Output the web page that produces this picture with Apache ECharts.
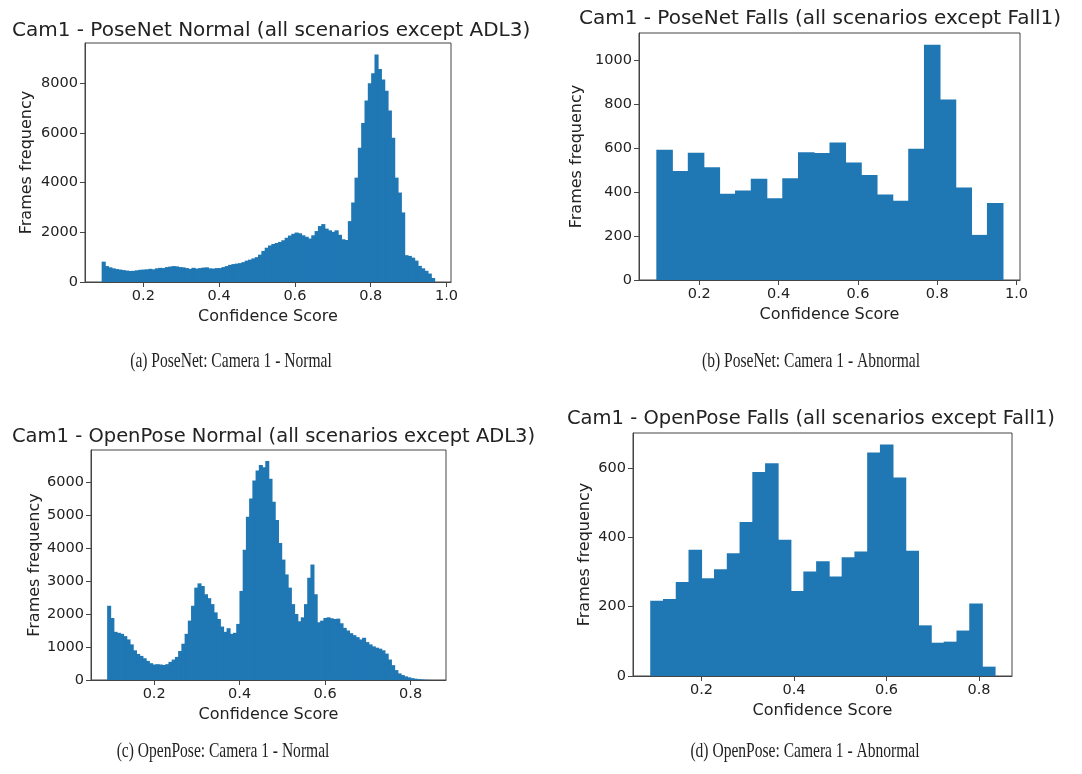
<!DOCTYPE html>
<html>
<head>
<meta charset="utf-8">
<title>Cam1 confidence score histograms</title>
<script src="https://cdn.jsdelivr.net/npm/echarts@6/dist/echarts.min.js"></script>
<style>
  html, body { margin: 0; padding: 0; background: #ffffff; }
  #chart { width: 1082px; height: 774px; }
</style>
</head>
<body>
<div id="chart"></div>
<script>
// Camera 1 – frames per confidence-score bin.
// Each histogram: [first bin edge, last bin edge] and the counts of its equal-width bins.

// PoseNet, normal activity (all scenarios except ADL3)
const poseNetNormalRange = [0.09, 0.968];
const poseNetNormalCounts = [
  820, 640, 590, 550, 520, 500, 480, 460, 445, 450,
  470, 490, 500, 510, 530, 510, 550, 570, 560, 600,
  620, 640, 630, 600, 590, 560, 530, 570, 540, 560,
  580, 590, 550, 540, 560, 560, 600, 640, 690, 720,
  740, 760, 800, 860, 900, 950, 1000, 1100, 1250, 1380,
  1470, 1530, 1570, 1610, 1680, 1780, 1870, 1940, 1990, 1960,
  1880, 1820, 1750, 1880, 2050, 2250, 2330, 2150, 2080, 2020,
  2080, 1900, 1720, 1690, 2450, 3200, 4200, 5400, 6400, 7300,
  8000, 8400, 9160, 8570, 8150, 7700, 6900, 5800, 4200, 3600,
  2800, 1080, 1050, 980, 860, 650, 550, 450, 340, 160
];

// PoseNet, falls (all scenarios except Fall1)
const poseNetFallsRange = [0.0917, 0.965];
const poseNetFallsCounts = [
  592, 495, 578, 512, 392, 407, 460, 371, 462, 581, 577,
  625, 534, 477, 388, 360, 596, 1069, 820, 420, 205, 350
];

// OpenPose, normal activity (all scenarios except ADL3)
const openPoseNormalRange = [0.09, 0.845];
const openPoseNormalCounts = [
  2250, 1880, 1460, 1430, 1400, 1330, 1230, 1080, 900, 790,
  730, 660, 580, 510, 470, 480, 470, 455, 480, 550,
  620, 700, 880, 1100, 1400, 1800, 2250, 2800, 2930, 2850,
  2600, 2480, 2300, 2050, 1850, 1620, 1460, 1570, 1400, 1430,
  1700, 2700, 3950, 4950, 5500, 6050, 6350, 6520, 6450, 6640,
  6100, 5400, 4850, 4150, 3650, 3200, 2800, 2300, 2000, 1780,
  1900, 2300, 3100, 3500, 2600, 1750, 1800, 1880, 1900, 1870,
  1850, 1860, 1720, 1580, 1500, 1420, 1360, 1300, 1230, 1280,
  1150, 1080, 1020, 980, 950, 900, 800, 620, 450, 300,
  200, 150, 110, 80, 55, 40, 25, 15, 8, 4
];

// OpenPose, falls (all scenarios except Fall1)
const openPoseFallsRange = [0.089, 0.834];
const openPoseFallsCounts = [
  217, 222, 271, 364, 282, 308, 354, 444, 588, 613, 393, 245, 301, 331,
  287, 342, 359, 644, 667, 572, 361, 146, 96, 99, 131, 209, 27
];

// Tick labels
const xTicksFull = [0.2, 0.4, 0.6, 0.8, 1.0];
const xTicksShort = [0.2, 0.4, 0.6, 0.8];
const yTicksPoseNetNormal = [0, 2000, 4000, 6000, 8000];
const yTicksPoseNetFalls = [0, 200, 400, 600, 800, 1000];
const yTicksOpenPoseNormal = [0, 1000, 2000, 3000, 4000, 5000, 6000];
const yTicksOpenPoseFalls = [0, 200, 400, 600];

// Titles and captions
const panelTitles = [
  'Cam1 - PoseNet Normal (all scenarios except ADL3)',
  'Cam1 - PoseNet Falls (all scenarios except Fall1)',
  'Cam1 - OpenPose Normal (all scenarios except ADL3)',
  'Cam1 - OpenPose Falls (all scenarios except Fall1)'
];
const panelCaptions = [
  '(a) PoseNet: Camera 1 - Normal',
  '(b) PoseNet: Camera 1 - Abnormal',
  '(c) OpenPose: Camera 1 - Normal',
  '(d) OpenPose: Camera 1 - Abnormal'
];
const xAxisTitle = 'Confidence Score';
const yAxisTitle = 'Frames frequency';

// ---------------------------------------------------------------------------

const BAR_COLOR = '#1f77b4';
const INK = '#222222';
const FRAME = '#454545';
const SANS = 'DejaVu Sans';

// Turn a range + counts into [binStart, binEnd, count] rows.
function toBins(range, counts) {
  const w = (range[1] - range[0]) / counts.length;
  return counts.map((c, i) => [range[0] + i * w, range[0] + (i + 1) * w, c]);
}

const panels = [
  { range: poseNetNormalRange, counts: poseNetNormalCounts, xTicks: xTicksFull, yTicks: yTicksPoseNetNormal,
    grid: { left: 85, top: 43, width: 366, height: 239 }, yGap: 50,
    title: { x: 12, y: 30.5, size: 20 }, caption: { x: 231, y: 361 } },
  { range: poseNetFallsRange, counts: poseNetFallsCounts, xTicks: xTicksFull, yTicks: yTicksPoseNetFalls,
    grid: { left: 639, top: 33, width: 381, height: 247 }, yGap: 54,
    title: { x: 579, y: 19, size: 20 }, caption: { x: 811, y: 361 } },
  { range: openPoseNormalRange, counts: openPoseNormalCounts, xTicks: xTicksShort, yTicks: yTicksOpenPoseNormal,
    grid: { left: 91, top: 450, width: 355, height: 230 }, yGap: 48,
    title: { x: 12, y: 437, size: 19.5 }, caption: { x: 223, y: 751 } },
  { range: openPoseFallsRange, counts: openPoseFallsCounts, xTicks: xTicksShort, yTicks: yTicksOpenPoseFalls,
    grid: { left: 633, top: 433, width: 379, height: 243 }, yGap: 40,
    title: { x: 567, y: 419, size: 19.5 }, caption: { x: 805, y: 751 } }
];

// One filled rectangle per bin; each is widened a hair so neighbouring bins
// overlap and no anti-aliasing seam shows between them.
function renderBins(params, api) {
  const base = api.coord([api.value(0), 0]);
  const top = api.coord([api.value(1), api.value(2)]);
  return {
    type: 'rect',
    shape: { x: base[0], y: top[1], width: top[0] - base[0] + 0.8, height: base[1] - top[1] },
    style: { fill: BAR_COLOR }
  };
}

const grids = [], xAxes = [], yAxes = [], series = [], graphics = [];

panels.forEach((p, i) => {
  const span = p.range[1] - p.range[0];
  const yMax = 1.05 * Math.max(...p.counts);

  grids.push(Object.assign({
    show: true, borderColor: FRAME, borderWidth: 1, backgroundColor: 'transparent',
    containLabel: false, outerBoundsMode: 'none'
  }, p.grid));

  xAxes.push({
    gridIndex: i, type: 'value', z: 3,
    min: p.range[0] - 0.05 * span, max: p.range[1] + 0.05 * span,
    axisLine: { show: true, onZero: false, lineStyle: { color: FRAME, width: 1 } },
    axisTick: { show: true, length: 5, lineStyle: { color: FRAME }, customValues: p.xTicks },
    axisLabel: { customValues: p.xTicks, formatter: v => v.toFixed(1), color: INK,
                 fontFamily: SANS, fontSize: 14.5, margin: 7 },
    splitLine: { show: false },
    name: xAxisTitle, nameLocation: 'middle', nameGap: 27,
    nameTextStyle: { color: INK, fontFamily: SANS, fontSize: 16 }
  });

  yAxes.push({
    gridIndex: i, type: 'value', z: 3,
    min: 0, max: yMax,
    axisLine: { show: true, lineStyle: { color: FRAME, width: 1 } },
    axisTick: { show: true, length: 5, lineStyle: { color: FRAME }, customValues: p.yTicks },
    axisLabel: { customValues: p.yTicks, formatter: v => String(Math.round(v)), color: INK,
                 fontFamily: SANS, fontSize: 14.5, margin: 7 },
    splitLine: { show: false },
    name: yAxisTitle, nameLocation: 'middle', nameGap: p.yGap,
    nameTextStyle: { color: INK, fontFamily: SANS, fontSize: 16 }
  });

  series.push({
    type: 'custom', xAxisIndex: i, yAxisIndex: i, z: 1,
    renderItem: renderBins,
    encode: { x: [0, 1], y: 2 },
    data: toBins(p.range, p.counts),
    silent: true
  });

  graphics.push({
    type: 'text', x: p.title.x, y: p.title.y,
    style: { text: panelTitles[i], fill: INK, font: p.title.size + 'px "' + SANS + '"',
             textAlign: 'left', align: 'left', textVerticalAlign: 'middle', verticalAlign: 'middle' }
  });

  graphics.push({
    type: 'text', x: p.caption.x, y: p.caption.y, scaleX: 0.74, scaleY: 1,
    style: { text: panelCaptions[i], fill: INK, font: '21px "Liberation Serif", "DejaVu Serif", serif',
             textAlign: 'center', align: 'center', textVerticalAlign: 'middle', verticalAlign: 'middle' }
  });
});

const chart = echarts.init(document.getElementById('chart'), null, { renderer: 'canvas' });
chart.setOption({
  animation: false,
  backgroundColor: '#ffffff',
  grid: grids,
  xAxis: xAxes,
  yAxis: yAxes,
  series: series,
  graphic: graphics
});
</script>
</body>
</html>
